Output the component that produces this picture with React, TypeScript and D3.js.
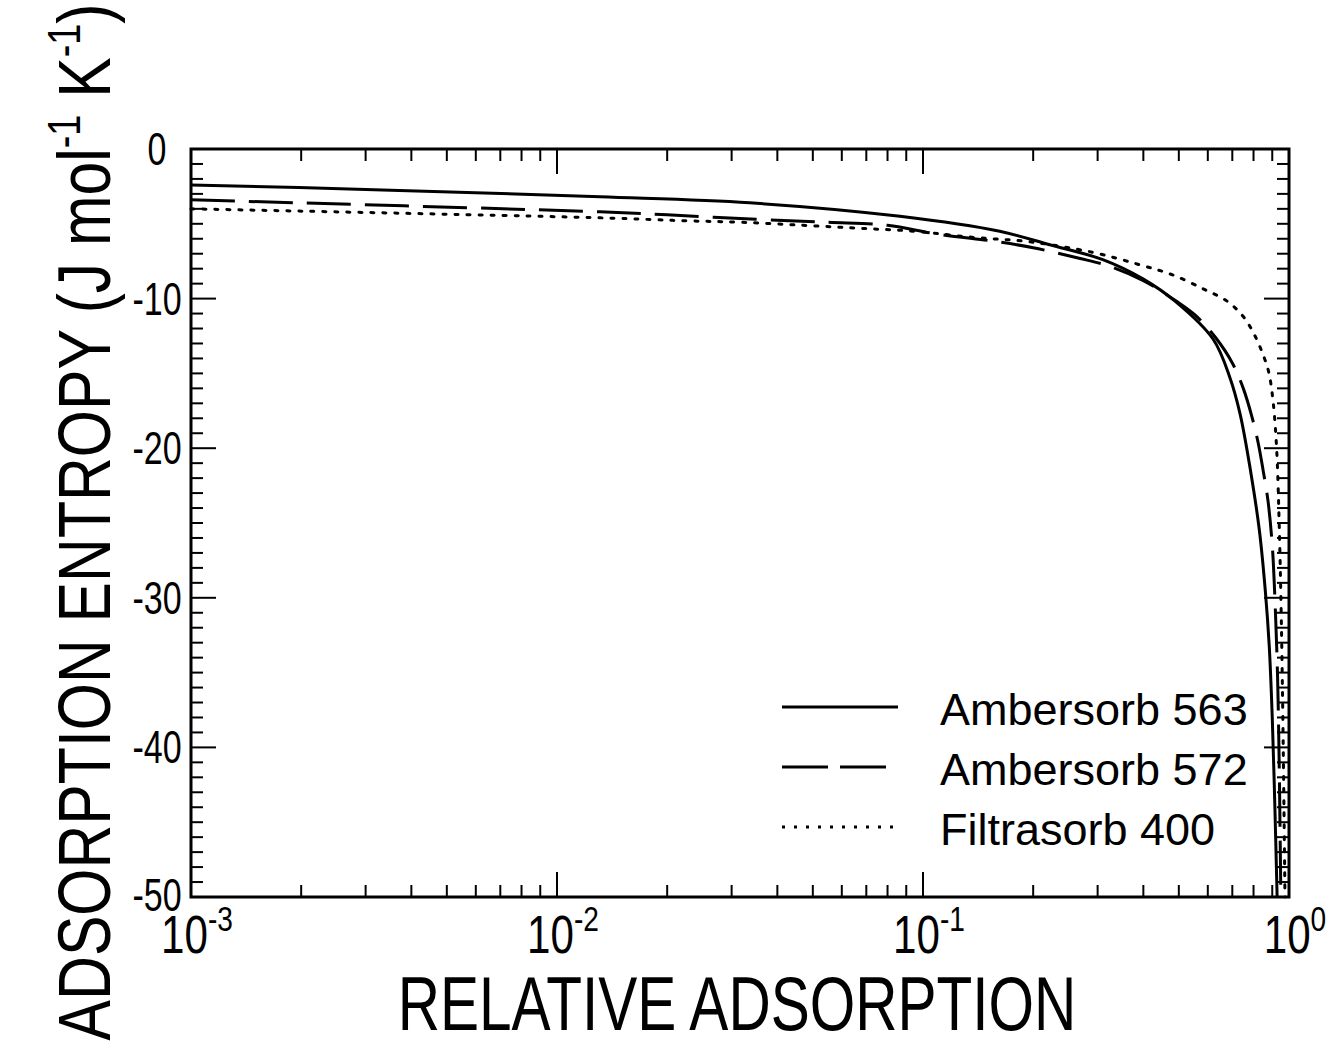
import * as d3 from 'd3';

// chart values
const relAds563 = [0.001, 0.003, 0.0131, 0.0336, 0.0865, 0.162, 0.222, 0.31, 0.4, 0.49, 0.62, 0.69, 0.735, 0.785, 0.83, 0.862, 0.883, 0.9, 0.915, 0.928];
const entropy563 = [-2.4, -2.7, -3.2, -3.6, -4.5, -5.5, -6.4, -7.4, -8.7, -10.2, -12.7, -15.3, -17.7, -21.5, -25.5, -29.6, -33.2, -38, -44, -50];

const relAds572 = [0.001, 0.0131, 0.02, 0.035, 0.055, 0.08, 0.11, 0.16, 0.2, 0.267, 0.32, 0.4, 0.494, 0.56, 0.63, 0.7, 0.75, 0.79, 0.823, 0.85, 0.876, 0.9, 0.915, 0.93, 0.94, 0.95];
const entropy572 = [-3.4, -4.2, -4.4, -4.7, -4.9, -5.1, -5.7, -6.2, -6.6, -7.3, -7.8, -8.8, -10.2, -11.2, -12.6, -14.3, -16.0, -17.8, -19.6, -21.5, -23.5, -26.5, -30, -35, -41, -50];

const relAds400 = [0.001, 0.0131, 0.0226, 0.032, 0.047, 0.067, 0.095, 0.136, 0.195, 0.29, 0.386, 0.479, 0.589, 0.68, 0.75, 0.8, 0.845, 0.88, 0.905, 0.925, 0.94, 0.952, 0.962, 0.975];
const entropy400 = [-4.0, -4.6, -4.8, -4.9, -5.1, -5.3, -5.5, -5.9, -6.2, -6.9, -7.7, -8.4, -9.4, -10.2, -11.2, -12.3, -13.6, -14.9, -16.9, -20, -25, -31, -38, -50];

const seriesNames = ['Ambersorb 563', 'Ambersorb 572', 'Filtrasorb 400'];
const seriesDash = ['none', '44,14', '3,9'];

const xTickExponents = [-3, -2, -1, 0];
const yTickLabels = [0, -10, -20, -30, -40, -50];

const WIDTH = 1331;
const HEIGHT = 1050;
const LEFT = 191;
const RIGHT = 1289;
const TOP = 149;
const BOTTOM = 897;
const FONT = '"Liberation Sans", Arial, Helvetica, sans-serif';

const zip = (xs: number[], ys: number[]) => xs.map((v, i) => [v, ys[i]] as [number, number]);

export default function App() {
  const x = d3.scaleLog().domain([1e-3, 1]).range([LEFT, RIGHT]);
  const y = d3.scaleLinear().domain([-50, 0]).range([BOTTOM, TOP]);

  const line = d3
    .line<[number, number]>()
    .x((d) => x(d[0]))
    .y((d) => y(d[1]))
    .curve(d3.curveCatmullRom.alpha(0.5));

  const series = [zip(relAds563, entropy563), zip(relAds572, entropy572), zip(relAds400, entropy400)];

  const xTicks = x.ticks();
  const isMajorX = (v: number) => Math.abs(Math.log10(v) - Math.round(Math.log10(v))) < 1e-9;
  const yTicks = y.ticks(50);
  const isMajorY = (v: number) => v % 10 === 0;

  const majorLen = 25;
  const minorLen = 12;

  return (
    <svg
      width={WIDTH}
      height={HEIGHT}
      style={{ position: 'absolute', left: 0, top: 0, background: '#fff' }}
      fontFamily={FONT}
    >
      <rect x={0} y={0} width={WIDTH} height={HEIGHT} fill="#fff" />

      {/* ticks */}
      <g stroke="#000" strokeWidth={2}>
        {xTicks.map((t, i) => {
          const len = isMajorX(t) ? majorLen : minorLen;
          return (
            <g key={`xt${i}`}>
              <line x1={x(t)} x2={x(t)} y1={BOTTOM} y2={BOTTOM - len} />
              <line x1={x(t)} x2={x(t)} y1={TOP} y2={TOP + len} />
            </g>
          );
        })}
        {yTicks.map((t, i) => {
          const len = isMajorY(t) ? majorLen : minorLen;
          return (
            <g key={`yt${i}`}>
              <line x1={LEFT} x2={LEFT + len} y1={y(t)} y2={y(t)} />
              <line x1={RIGHT} x2={RIGHT - len} y1={y(t)} y2={y(t)} />
            </g>
          );
        })}
      </g>

      {/* frame */}
      <rect x={LEFT} y={TOP} width={RIGHT - LEFT} height={BOTTOM - TOP} fill="none" stroke="#000" strokeWidth={3} />

      {/* curves */}
      {series.map((s, i) => (
        <path
          key={seriesNames[i]}
          d={line(s) ?? ''}
          fill="none"
          stroke="#000"
          strokeWidth={3}
          strokeDasharray={seriesDash[i]}
          strokeLinecap={i === 2 ? 'round' : 'butt'}
        />
      ))}

      {/* y tick labels */}
      {yTickLabels.map((t) => (
        <g key={`yl${t}`} transform={`translate(${LEFT - 34},${y(t) - (t === -50 ? 2 : 0)}) scale(0.74,1)`}>
          <text textAnchor="middle" dominantBaseline="central" fontSize={46}>
            {t}
          </text>
        </g>
      ))}

      {/* x tick labels */}
      {xTickExponents.map((e) => (
        <g key={`xl${e}`} transform={`translate(${x(Math.pow(10, e)) + 6},953) scale(0.78,1)`}>
          <text textAnchor="middle" fontSize={54}>
            <tspan>10</tspan>
            <tspan fontSize={36} dy={-22}>
              {e}
            </tspan>
          </text>
        </g>
      ))}

      {/* legend */}
      {seriesNames.map((name, i) => {
        const ly = 707 + i * 60;
        return (
          <g key={`lg${i}`}>
            <line
              x1={782}
              x2={898}
              y1={ly}
              y2={ly}
              stroke="#000"
              strokeWidth={3}
              strokeDasharray={i === 1 ? '46,12' : seriesDash[i]}
            />
            <text x={940} y={ly + 2} dominantBaseline="central" fontSize={45}>
              {name}
            </text>
          </g>
        );
      })}

      {/* axis titles */}
      <g transform="translate(737,1030) scale(0.77,1)">
        <text textAnchor="middle" fontSize={76}>
          RELATIVE ADSORPTION
        </text>
      </g>
      <g transform="translate(110,522) rotate(-90) scale(0.82,1)">
        <text textAnchor="middle" fontSize={74}>
          ADSORPTION ENTROPY (J mol
          <tspan fontSize={46} dy={-30}>-1</tspan>
          <tspan dy={30}> K</tspan>
          <tspan fontSize={46} dy={-30}>-1</tspan>
          <tspan dy={30}>)</tspan>
        </text>
      </g>
    </svg>
  );
}
